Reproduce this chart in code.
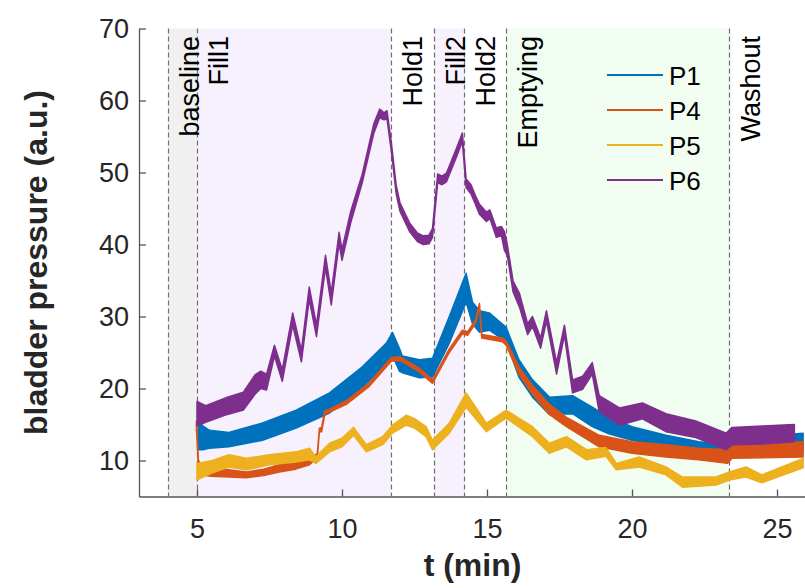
<!DOCTYPE html>
<html>
<head>
<meta charset="utf-8">
<script src="https://cdn.jsdelivr.net/npm/d3@7"></script>
<style>
  body { margin: 0; background: #fff; }
  text { font-family: "Liberation Sans", Arial, sans-serif; }
</style>
</head>
<body>
<script>
const width = 805;
const height = 588;

// phases of the protocol (start time of each, in min)
const phaseNames = ["baseline", "Fill1", "Hold1", "Fill2", "Hold2", "Emptying", "Washout"];
const phaseStarts = [4, 5, 11.69, 13.16, 14.22, 15.65, 23.35];
const phaseEnd = 26;

const xTicks = [5, 10, 15, 20, 25];
const yTicks = [10, 20, 30, 40, 50, 60, 70];

const seriesNames = ["P1", "P4", "P5", "P6"];

// [t, low edge, high edge] of each noisy trace
const p1 = [
  [5.05, 11.5, 15.5], [5.2, 11.5, 14.8], [5.43, 11.7, 14.2], [6.1, 11.9, 13.9],
  [7.26, 12.8, 15.2], [8.42, 14.5, 17.0], [9.57, 16.6, 19.4], [10.7, 20.1, 23.0],
  [11.53, 23.5, 26.3], [11.74, 24.6, 27.8], [11.98, 22.4, 25.6], [12.08, 22.2, 24.5],
  [12.67, 21.5, 24.0], [13.12, 21.6, 24.2], [13.7, 26.3, 30.0], [14.28, 32.0, 36.0],
  [14.5, 29.0, 32.0], [14.74, 27.8, 30.8], [15.08, 28.1, 30.5], [15.66, 26.5, 28.5],
  [16.1, 21.6, 24.0], [16.57, 18.8, 21.2], [17.15, 16.4, 18.8], [17.95, 16.5, 19.0],
  [18.63, 14.7, 17.4], [19.2, 13.7, 16.0], [20.0, 12.8, 14.7], [21.17, 11.9, 13.5],
  [22.3, 11.5, 12.6], [23.36, 11.0, 12.2], [23.5, 11.3, 13.0], [25.9, 11.5, 13.8]
];

const p4 = [
  [4.98, 14.5, 15.5], [5.05, 9.0, 10.0], [5.15, 8.0, 9.4], [5.5, 7.8, 9.0],
  [6.1, 7.7, 8.7], [6.7, 7.6, 8.4], [7.3, 7.9, 8.8], [7.84, 8.4, 9.4],
  [8.4, 8.8, 9.8], [8.88, 9.4, 10.1], [9.15, 10.4, 11.0], [9.22, 14.0, 14.5],
  [9.3, 14.0, 14.6], [9.4, 16.3, 16.9], [9.5, 16.6, 17.0], [10.15, 17.8, 18.3],
  [10.94, 20.3, 20.8], [11.7, 23.8, 24.3], [12.0, 23.9, 24.4], [12.67, 22.3, 22.8],
  [13.12, 20.7, 21.2], [13.7, 25.0, 25.5], [14.15, 27.6, 28.1], [14.33, 27.4, 27.9],
  [14.6, 29.0, 29.5], [14.74, 31.3, 31.8], [14.82, 27.0, 27.5], [15.53, 26.5, 27.0],
  [15.66, 26.0, 26.6], [16.1, 22.0, 23.0], [16.57, 19.2, 20.4], [17.15, 16.4, 17.8],
  [17.74, 14.7, 16.0], [18.87, 11.9, 13.5], [20.0, 11.0, 12.6], [21.17, 10.5, 12.2],
  [22.3, 10.1, 11.7], [23.3, 9.6, 11.5], [23.45, 10.3, 12.2], [25.9, 10.5, 12.6]
];

const p5 = [
  [5.0, 7.3, 9.6], [5.53, 8.3, 10.0], [6.1, 9.1, 10.8], [6.7, 8.7, 10.3],
  [7.5, 9.4, 10.8], [8.42, 9.8, 11.2], [8.88, 10.1, 11.7], [9.1, 9.6, 10.5],
  [9.57, 11.2, 12.4], [10.0, 11.9, 13.1], [10.4, 13.5, 14.6], [10.84, 11.2, 12.2],
  [11.4, 12.2, 13.3], [11.74, 13.8, 14.9], [12.22, 14.9, 16.3], [12.5, 14.5, 15.8],
  [12.9, 13.3, 14.7], [13.12, 11.5, 12.8], [13.7, 13.8, 15.2], [14.28, 17.4, 19.4],
  [14.98, 14.0, 15.2], [15.4, 15.2, 16.3], [15.66, 15.9, 17.0], [16.57, 13.3, 14.7],
  [17.15, 11.0, 12.4], [17.74, 11.9, 13.3], [18.43, 10.1, 11.5], [19.1, 10.6, 11.8],
  [19.46, 8.7, 9.6], [20.25, 9.1, 10.5], [21.17, 8.0, 9.1], [21.74, 6.3, 7.7],
  [22.9, 6.6, 7.7], [23.36, 7.3, 8.4], [23.93, 7.7, 9.1], [24.48, 6.9, 8.0],
  [25.9, 9.0, 10.3]
];

const p6 = [
  [5.0, 14.8, 18.2], [5.3, 15.3, 17.6], [6.05, 16.4, 18.8], [6.6, 17.0, 19.5],
  [7.0, 19.2, 21.9], [7.2, 20.0, 22.4], [7.4, 19.8, 22.0], [7.67, 24.5, 26.0],
  [7.94, 21.0, 22.6], [8.3, 28.8, 30.5], [8.6, 23.7, 25.3], [8.87, 32.4, 34.1],
  [9.12, 27.2, 28.8], [9.43, 36.8, 38.5], [9.63, 31.6, 33.3], [9.9, 40.2, 41.7],
  [10.0, 37.8, 39.3], [10.3, 43.0, 44.6], [10.7, 48.6, 49.8], [11.1, 55.5, 56.8],
  [11.3, 57.6, 58.8], [11.45, 57.3, 58.3], [11.55, 57.5, 58.6], [11.7, 53.0, 54.2],
  [11.87, 47.0, 48.2], [12.0, 44.6, 45.8], [12.33, 41.8, 43.0], [12.6, 40.4, 41.6],
  [12.8, 40.0, 41.2], [13.0, 40.1, 41.3], [13.12, 41.0, 42.2], [13.3, 48.6, 49.8],
  [13.45, 48.3, 49.5], [13.6, 48.7, 49.9], [13.94, 52.1, 53.3], [14.15, 54.3, 55.5],
  [14.28, 47.9, 49.1], [14.45, 47.0, 48.3], [14.6, 45.6, 46.8], [14.74, 44.2, 45.6],
  [14.98, 43.2, 44.5], [15.1, 43.6, 44.8], [15.32, 41.0, 42.3], [15.5, 41.2, 42.5],
  [15.6, 39.2, 41.8], [15.7, 38.5, 40.0], [15.9, 33.4, 34.9], [16.12, 31.3, 33.2],
  [16.4, 27.5, 29.0], [16.57, 28.6, 30.0], [16.85, 25.6, 27.0], [17.05, 29.4, 30.8],
  [17.4, 22.0, 23.6], [17.67, 27.4, 28.8], [17.95, 19.4, 21.2], [18.3, 19.9, 21.7],
  [18.63, 22.0, 23.6], [18.87, 16.8, 19.0], [19.57, 14.9, 17.3], [20.36, 15.8, 18.0],
  [21.17, 14.0, 16.5], [22.2, 13.2, 15.5], [23.25, 11.5, 13.8], [23.45, 12.2, 14.6],
  [24.5, 12.3, 14.8], [25.6, 12.6, 15.0]
];

const seriesData = [p1, p4, p5, p6];

// MATLAB default colour order
const colors = ["#0072BD", "#D95319", "#EDB120", "#7E2F8E"];
const phaseColor = {
  baseline: "#f0f0f0",
  Fill1: "#f6f1fd",
  Fill2: "#f6f1fd",
  Emptying: "#f0fdf0"
};

let svg = d3
  .select("body")
  .append("svg")
  .attr("width", width)
  .attr("height", height);

let margin = { top: 28.5, right: 0, bottom: 91.5, left: 139 };

let xScale = d3
  .scaleLinear()
  .domain([3, 26])
  .range([margin.left, 806]);
let yScale = d3
  .scaleLinear()
  .domain([5, 70])
  .range([height - margin.bottom, margin.top]);

// shaded phase bands
let phases = phaseNames.map((name, i) => ({
  name: name,
  start: phaseStarts[i],
  end: i < phaseStarts.length - 1 ? phaseStarts[i + 1] : phaseEnd
}));

svg
  .append("g")
  .selectAll("rect")
  .data(phases.filter((d) => phaseColor[d.name]))
  .join("rect")
  .attr("x", (d) => xScale(d.start))
  .attr("width", (d) => xScale(d.end) - xScale(d.start))
  .attr("y", yScale(70))
  .attr("height", yScale(5) - yScale(70))
  .attr("fill", (d) => phaseColor[d.name]);

// dashed phase boundaries
svg
  .append("g")
  .selectAll("line")
  .data(phases)
  .join("line")
  .attr("x1", (d) => Math.round(xScale(d.start)) + 0.5)
  .attr("x2", (d) => Math.round(xScale(d.start)) + 0.5)
  .attr("y1", yScale(70))
  .attr("y2", yScale(5))
  .attr("stroke", "#707070")
  .attr("stroke-width", 1.2)
  .attr("stroke-dasharray", "5,3");

// traces
let area = d3
  .area()
  .x((d) => xScale(d[0]))
  .y0((d) => yScale(d[1]))
  .y1((d) => yScale(d[2]));

svg
  .append("g")
  .selectAll("path")
  .data(seriesData)
  .join("path")
  .attr("d", area)
  .attr("fill", (d, i) => colors[i])
  .attr("stroke", (d, i) => colors[i])
  .attr("stroke-width", 1.5)
  .attr("stroke-linejoin", "round");

// phase labels (rotated, reading upward)
svg
  .append("g")
  .selectAll("text")
  .data(phases)
  .join("text")
  .attr(
    "transform",
    (d) => `translate(${xScale(d.start) + 31},36) rotate(-90)`
  )
  .attr("text-anchor", "end")
  .attr("font-size", 27)
  .attr("fill", "#000")
  .text((d) => d.name);

// axes
let xAxis = svg
  .append("g")
  .attr("transform", `translate(0,${height - margin.bottom})`)
  .call(
    d3
      .axisBottom(xScale)
      .tickValues(xTicks)
      .tickSizeInner(-7)
      .tickSizeOuter(0)
      .tickPadding(22)
  );

let yAxis = svg
  .append("g")
  .attr("transform", `translate(${margin.left},0)`)
  .call(
    d3
      .axisLeft(yScale)
      .tickValues(yTicks)
      .tickSizeInner(-7)
      .tickSizeOuter(0)
      .tickPadding(10)
  );

[xAxis, yAxis].forEach((g) => {
  g.select(".domain").attr("stroke", "#555").attr("stroke-width", 1.3);
  g.selectAll(".tick line").attr("stroke", "#555").attr("stroke-width", 1.3);
  g.selectAll(".tick text")
    .attr("font-size", 27)
    .attr("font-family", '"Liberation Sans", Arial, sans-serif')
    .attr("fill", "#262626");
});

// axis titles
svg
  .append("text")
  .attr("x", (margin.left + 806) / 2)
  .attr("y", 576)
  .attr("text-anchor", "middle")
  .attr("font-size", 32)
  .attr("font-weight", "bold")
  .attr("fill", "#262626")
  .text("t (min)");

svg
  .append("text")
  .attr(
    "transform",
    `translate(47,${(yScale(5) + yScale(70)) / 2}) rotate(-90)`
  )
  .attr("text-anchor", "middle")
  .attr("font-size", 32)
  .attr("font-weight", "bold")
  .attr("fill", "#262626")
  .text("bladder pressure (a.u.)");

// legend
let legend = svg
  .append("g")
  .selectAll("g")
  .data(seriesNames)
  .join("g")
  .attr("transform", (d, i) => `translate(607,${75 + i * 35})`);

legend
  .append("line")
  .attr("x1", 0)
  .attr("x2", 56)
  .attr("stroke", (d, i) => colors[i])
  .attr("stroke-width", 2);

legend
  .append("text")
  .attr("x", 62)
  .attr("y", 9.5)
  .attr("font-size", 26)
  .attr("fill", "#000")
  .text((d) => d);
</script>
</body>
</html>
